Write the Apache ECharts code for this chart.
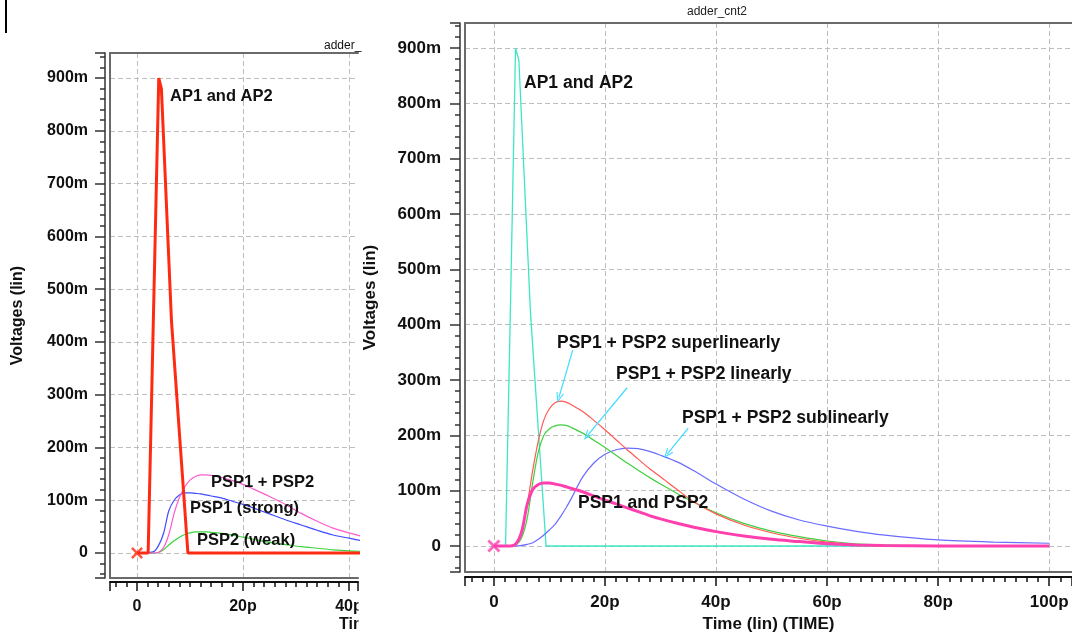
<!DOCTYPE html>
<html>
<head>
<meta charset="utf-8">
<title>adder_cnt2</title>
<script src="https://cdn.jsdelivr.net/npm/echarts@6/dist/echarts.min.js"></script>
<style>
html, body { margin: 0; padding: 0; background: #fff; }
#main { width: 1072px; height: 632px; }
</style>
</head>
<body>
<div id="main"></div>
<script>
// time in ps, voltage in V

// left window: strong / weak inputs
var apTimeL = [0, 2.1, 4.1, 4.6, 6.5, 9.6, 45];
var apVoltL = [0, 0, 0.9, 0.88, 0.44, 0, 0];

var pspTimeL = [0, 3, 4, 5, 6, 7, 8, 9, 10, 11, 12, 13, 14, 16, 18, 20, 22, 25, 28, 31, 34, 37, 40, 43];
var psp12L = [0, 0, 0.001, 0.01, 0.035, 0.075, 0.105, 0.125, 0.138, 0.145, 0.148, 0.148, 0.147, 0.143, 0.137, 0.13, 0.121, 0.107, 0.092, 0.075, 0.06, 0.047, 0.038, 0.03];
var psp1L = [0, 0.002, 0.013, 0.037, 0.08, 0.1, 0.11, 0.114, 0.114, 0.113, 0.112, 0.11, 0.108, 0.104, 0.098, 0.092, 0.085, 0.074, 0.063, 0.053, 0.043, 0.034, 0.028, 0.022];
var psp2L = [0, 0, 0.001, 0.006, 0.015, 0.023, 0.03, 0.035, 0.038, 0.04, 0.04, 0.04, 0.039, 0.037, 0.034, 0.03, 0.026, 0.02, 0.016, 0.012, 0.009, 0.006, 0.004, 0.003];

// right window: adder_cnt2
var apTimeR = [0, 2.1, 3, 3.9, 4.5, 6.6, 9.4, 100];
var apVoltR = [0, 0, 0.44, 0.9, 0.878, 0.42, 0, 0];

var pspTimeR = [0, 3, 4, 5, 6, 7, 8, 9, 10, 11, 12, 13, 14, 16, 18, 20, 22, 24, 26, 28, 30, 33, 36, 40, 45, 50, 55, 60, 65, 70, 80, 90, 100];
var superR = [0, 0, 0.004, 0.03, 0.075, 0.137, 0.19, 0.228, 0.248, 0.259, 0.262, 0.26, 0.255, 0.243, 0.227, 0.21, 0.192, 0.174, 0.157, 0.14, 0.125, 0.102, 0.08, 0.058, 0.038, 0.024, 0.014, 0.007, 0.003, 0.001, 0, 0, 0];
var linearR = [0, 0, 0.002, 0.015, 0.05, 0.115, 0.17, 0.2, 0.212, 0.217, 0.219, 0.218, 0.214, 0.204, 0.191, 0.178, 0.164, 0.15, 0.137, 0.124, 0.112, 0.095, 0.079, 0.06, 0.041, 0.027, 0.017, 0.009, 0.004, 0.002, 0, 0, 0];
var subR = [0, 0, 0, 0.001, 0.003, 0.006, 0.012, 0.02, 0.029, 0.039, 0.053, 0.069, 0.087, 0.125, 0.15, 0.166, 0.174, 0.177, 0.176, 0.171, 0.164, 0.152, 0.136, 0.112, 0.085, 0.063, 0.047, 0.036, 0.027, 0.02, 0.011, 0.007, 0.005];
var bothR = [0, 0, 0.004, 0.025, 0.075, 0.102, 0.111, 0.114, 0.114, 0.112, 0.11, 0.107, 0.104, 0.098, 0.09, 0.083, 0.076, 0.069, 0.062, 0.055, 0.049, 0.041, 0.034, 0.026, 0.018, 0.012, 0.008, 0.004, 0.002, 0.001, 0, 0, 0];

// arrows: [fromTime, fromVolt, toTime, toVolt]
var arrowsR = [
    [14.2, 0.354, 11.7, 0.268],
    [24.0, 0.286, 16.8, 0.199],
    [35.0, 0.213, 31.2, 0.166]
];

var fontFam = '"Liberation Sans", Arial, Helvetica, sans-serif';
var gridColor = '#bebebe';
var frameColor = '#6a6a6a';
var crossPath = 'path://M0,1.5L1.5,0L5,3.5L8.5,0L10,1.5L6.5,5L10,8.5L8.5,10L5,6.5L1.5,10L0,8.5L3.5,5Z';
var chevronPath = 'path://M0,10L5,0L10,10L8.6,10L5,2.8L1.4,10Z';

function pairs(t, v) {
    var res = [];
    for (var i = 0; i < t.length; i++) {
        res.push([t[i], v[i]]);
    }
    return res;
}

function fmtTime(v) {
    if (Math.abs(v / 20 - Math.round(v / 20)) > 1e-6) return '';
    return v === 0 ? '0' : Math.round(v) + 'p';
}

function fmtVolt(v) {
    if (Math.abs(v * 10 - Math.round(v * 10)) > 1e-6) return '';
    var mv = Math.round(v * 1000);
    return mv === 0 ? '0' : mv + 'm';
}

function tickAxisX(grid, min, max, offset, fs) {
    return {
        gridIndex: grid, type: 'value', position: 'bottom', offset: offset,
        min: min, max: max, splitNumber: grid === 0 ? 2 : 5,
        axisLine: { show: true, onZero: false, lineStyle: { color: '#111', width: 2 } },
        axisTick: { show: true, length: 9, lineStyle: { color: '#111', width: 1.5 } },
        minorTick: { show: true, splitNumber: 10, length: 5, lineStyle: { color: '#111', width: 1.5 } },
        axisLabel: { margin: 17, fontSize: fs, fontWeight: 'bold', color: '#111', fontFamily: fontFam, formatter: fmtTime },
        splitLine: { show: true, showMinLine: false, showMaxLine: false, lineStyle: { color: gridColor, type: [5, 3], width: 1 } }
    };
}

function tickAxisY(grid, min, max, offset, fs, margin, nameGap) {
    return {
        gridIndex: grid, type: 'value', position: 'left', offset: offset,
        min: min, max: max, splitNumber: 10,
        name: 'Voltages (lin)', nameLocation: 'middle', nameGap: nameGap,
        nameTextStyle: { fontSize: fs, fontWeight: 'bold', color: '#111', fontFamily: fontFam },
        axisLine: { show: true, onZero: false, lineStyle: { color: '#333', width: 1.5 } },
        axisTick: { show: true, length: 10, lineStyle: { color: '#333', width: 1.5 } },
        minorTick: { show: true, splitNumber: 5, length: 5, lineStyle: { color: '#333', width: 1.5 } },
        axisLabel: { margin: margin, fontSize: fs, fontWeight: 'bold', color: '#111', fontFamily: fontFam, formatter: fmtVolt },
        splitLine: { show: true, lineStyle: { color: gridColor, type: [5, 3], width: 1 } }
    };
}

// plain line along one side of a window
function frameAxis(grid, pos) {
    return {
        gridIndex: grid, type: 'value', position: pos, offset: 0, min: 0, max: 1,
        axisLine: { show: true, onZero: false, lineStyle: { color: frameColor, width: 2 } },
        axisTick: { show: false }, axisLabel: { show: false }, splitLine: { show: false }
    };
}

function curve(name, xi, yi, data, color, width, z) {
    return {
        name: name, type: 'line', xAxisIndex: xi, yAxisIndex: yi,
        data: data, showSymbol: false, smooth: 0.3, z: z,
        lineStyle: { color: color, width: width }, itemStyle: { color: color }
    };
}

function textItem(text, x, y, size, weight) {
    return {
        type: 'text', x: x, y: y, z: 100,
        style: { text: text, fill: '#111', font: (weight || 'bold') + ' ' + size + 'px ' + fontFam, verticalAlign: 'middle' }
    };
}

var arrowData = arrowsR.map(function (a) {
    return [{ coord: [a[0], a[1]] }, { coord: [a[2], a[3]] }];
});

var option = {
    animation: false,
    backgroundColor: '#fff',
    title: {
        text: 'adder_cnt2', left: 687, top: 6, padding: 0,
        textStyle: { fontSize: 12, fontWeight: 'normal', color: '#222', fontFamily: fontFam }
    },
    grid: [
        { left: 110, top: 53, width: 248, height: 525, outerBoundsMode: 'none' },
        { left: 465, top: 23, width: 607, height: 549, outerBoundsMode: 'none' }
    ],
    xAxis: [
        tickAxisX(0, -5.1, 41.7, 4, 16),
        frameAxis(0, 'top'),
        frameAxis(0, 'bottom'),
        (function () {
            var ax = tickAxisX(1, -5.2, 104.1, 5, 17);
            ax.name = 'Time (lin) (TIME)';
            ax.nameLocation = 'middle';
            ax.nameGap = 37;
            ax.nameTextStyle = { fontSize: 17, fontWeight: 'bold', color: '#111', fontFamily: fontFam };
            return ax;
        })(),
        frameAxis(1, 'top'),
        frameAxis(1, 'bottom')
    ],
    yAxis: [
        tickAxisY(0, -0.0474, 0.9474, 5, 16, 17, 79),
        frameAxis(0, 'left'),
        tickAxisY(1, -0.047, 0.9452, 5, 17, 19, 81),
        frameAxis(1, 'left')
    ],
    series: [
        curve('PSP2 (weak)', 0, 0, pairs(pspTimeL, psp2L), '#3bd43b', 1.2, 3),
        curve('PSP1 (strong)', 0, 0, pairs(pspTimeL, psp1L), '#3f4cff', 1.2, 3),
        curve('PSP1 + PSP2', 0, 0, pairs(pspTimeL, psp12L), '#ff5ccf', 1.2, 3),
        {
            name: 'AP1 and AP2', type: 'line', xAxisIndex: 0, yAxisIndex: 0,
            data: pairs(apTimeL, apVoltL), showSymbol: false, z: 5,
            lineStyle: { color: '#ff2a12', width: 3 }, itemStyle: { color: '#ff2a12' }
        },
        {
            type: 'scatter', xAxisIndex: 0, yAxisIndex: 0, data: [[0, 0]], z: 6,
            symbol: crossPath, symbolSize: 12, itemStyle: { color: '#ff2a12' }
        },

        {
            name: 'AP1 and AP2', type: 'line', xAxisIndex: 3, yAxisIndex: 2,
            data: pairs(apTimeR, apVoltR), showSymbol: false, z: 3,
            lineStyle: { color: '#3ee6c6', width: 1.3 }, itemStyle: { color: '#3ee6c6' }
        },
        curve('PSP1 + PSP2 sublinearly', 3, 2, pairs(pspTimeR, subR), '#6a6cff', 1.2, 3),
        curve('PSP1 + PSP2 linearly', 3, 2, pairs(pspTimeR, linearR), '#3fcf3f', 1.2, 3),
        (function () {
            var s = curve('PSP1 + PSP2 superlinearly', 3, 2, pairs(pspTimeR, superR), '#ff5a52', 1.2, 3);
            s.markLine = {
                silent: true, symbol: ['none', chevronPath], symbolSize: [8, 10],
                label: { show: false },
                lineStyle: { color: '#3ddcff', width: 1.2, type: 'solid' },
                data: arrowData
            };
            return s;
        })(),
        curve('PSP1 and PSP2', 3, 2, pairs(pspTimeR, bothR), '#ff3fae', 3, 4),
        {
            type: 'scatter', xAxisIndex: 3, yAxisIndex: 2, data: [[0, 0]], z: 6,
            symbol: crossPath, symbolSize: 13, itemStyle: { color: '#ff3fae' }
        }
    ],
    graphic: [
        { type: 'rect', shape: { x: 5, y: 0, width: 2, height: 33 }, style: { fill: '#000' }, z: 100 },
        textItem('adder_', 324, 46, 12, 'normal'),
        textItem('AP1 and AP2', 170, 96, 16.5),
        textItem('PSP1 + PSP2', 211, 482, 16.5),
        textItem('PSP1 (strong)', 190, 508, 16.5),
        textItem('PSP2 (weak)', 197, 540, 16.5),
        textItem('Time (lin) (TIME)', 339, 625, 16),
        // the left window is cut off at its right edge
        { type: 'rect', shape: { x: 358.5, y: 592, width: 125, height: 40 }, style: { fill: '#fff' }, z: 101 },

        textItem('AP1 and AP2', 524, 83, 17.5),
        textItem('PSP1 + PSP2 superlinearly', 557, 343, 17.5),
        textItem('PSP1 + PSP2 linearly', 616, 374, 17.5),
        textItem('PSP1 + PSP2 sublinearly', 682, 418, 17.5),
        textItem('PSP1 and PSP2', 578, 503, 17.5)
    ]
};

var myChart = echarts.init(document.getElementById('main'), null, { renderer: 'canvas' });
myChart.setOption(option);

window.onresize = function () {
    myChart.resize && myChart.resize();
};
</script>
</body>
</html>
